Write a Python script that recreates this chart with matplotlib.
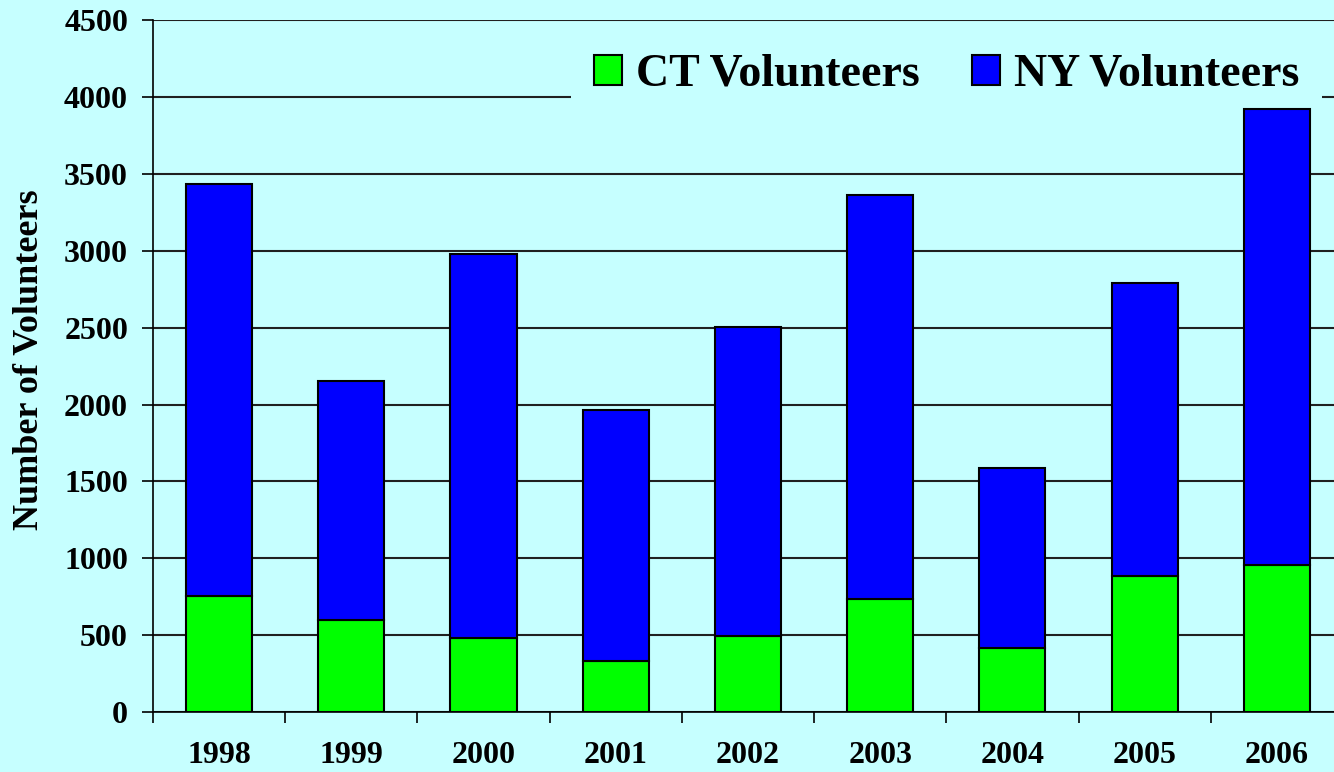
import numpy as np
import matplotlib
matplotlib.use("Agg")
import matplotlib.pyplot as plt

# Volunteer counts
years = ["1998", "1999", "2000", "2001", "2002", "2003", "2004", "2005", "2006"]
ct_volunteers = [754, 598, 481, 332, 494, 735, 416, 884, 956]
ny_volunteers = [2679, 1554, 2497, 1632, 2009, 2626, 1170, 1905, 2970]
yticks = [0, 500, 1000, 1500, 2000, 2500, 3000, 3500, 4000, 4500]

bg = "#C6FFFF"
plt.rcParams["font.family"] = ["Liberation Serif", "DejaVu Serif"]
plt.rcParams["font.weight"] = "bold"

fig = plt.figure(figsize=(13.34, 7.72), dpi=100, facecolor=bg)
ax = fig.add_axes([0.1147, 0.0777, 0.892, 0.896])
ax.set_facecolor(bg)

x = np.arange(len(years))
ax.bar(x, ct_volunteers, width=0.5, color="#00FF00", edgecolor="black",
       linewidth=1.5, label="CT Volunteers", zorder=3)
ax.bar(x, ny_volunteers, width=0.5, bottom=ct_volunteers, color="#0000FF",
       edgecolor="black", linewidth=1.5, label="NY Volunteers", zorder=3)

ax.set_xlim(-0.5, len(years) - 0.5)
ax.set_ylim(0, 4500)
ax.set_yticks(yticks)
ax.set_yticklabels([str(v) for v in yticks], fontsize=23, fontweight="bold")
ax.tick_params(axis="y", length=8, width=1.2, pad=10)

ax.set_xticks(x)
ax.set_xticklabels(years, fontsize=23, fontweight="bold")
ax.tick_params(axis="x", which="major", length=0, pad=21)
ax.set_xticks(np.arange(len(years)) - 0.5, minor=True)
ax.tick_params(axis="x", which="minor", length=8, width=1.2, direction="out")

ax.grid(axis="y", color="#202020", linewidth=1.5, zorder=0)
for s in ["top", "right"]:
    ax.spines[s].set_visible(False)
ax.spines["left"].set_linewidth(1.2)
ax.spines["bottom"].set_linewidth(1.2)

ax.set_ylabel("Number of Volunteers", fontsize=26, fontweight="bold")
ax.yaxis.set_label_coords(-0.09, 0.51)

leg = ax.legend(loc="upper right", bbox_to_anchor=(0.991, 0.96),
                bbox_transform=fig.transFigure, ncol=2,
                fontsize=33, frameon=True, fancybox=False,
                handlelength=0.62, handleheight=0.62, handletextpad=0.3,
                columnspacing=1.13, borderpad=0.5, borderaxespad=0)
leg.get_frame().set_facecolor(bg)
leg.get_frame().set_edgecolor("none")
leg.get_frame().set_alpha(1)
leg.set_zorder(2.5)
for t in leg.get_texts():
    t.set_fontweight("bold")

fig.savefig("out.png", dpi=100, facecolor=bg)
